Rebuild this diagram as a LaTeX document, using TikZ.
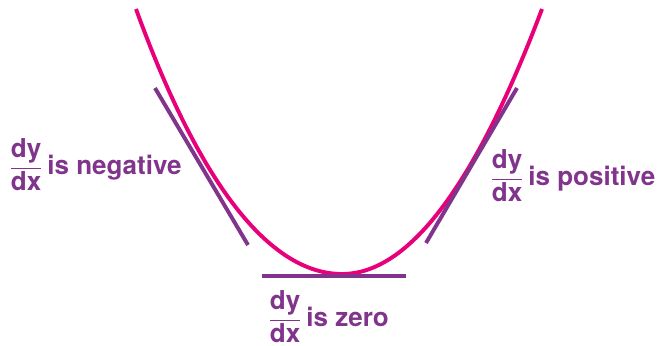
\documentclass[tikz,border=0pt]{standalone}
\usepackage{amsmath}
\usepackage{fontspec}
\setmainfont{TeX Gyre Heros}
\usetikzlibrary{calc}
\definecolor{curvepink}{RGB}{232,0,122}
\definecolor{tanpurple}{RGB}{128,52,140}
\tikzset{
  curveline/.style={draw=curvepink, line width=2.8pt},
  tanline/.style={draw=tanpurple, line width=2.8pt},
  slopelbl/.style={
    text=tanpurple, inner sep=0pt, anchor=west,
    font=\fontsize{18.5}{22}\selectfont\bfseries,
  },
}
\newcommand{\dydx}{$\dfrac{\text{dy}}{\text{dx}}$}

\begin{document}
\begin{tikzpicture}[x=0.025cm, y=-0.025cm]
\useasboundingbox (0,0) rectangle (659,345);

% =====================================================================
%  CURVE (left and right branches meet at the bottom)
% =====================================================================
\draw[curveline] plot[domain=136:342, samples=80]
  (\x, {274 - 246*((342-\x)/206)^2 - 19*((342-\x)/206)^4})
  -- plot[domain=342:542, samples=80]
  (\x, {274 - 265*((\x-342)/200)^2});

% =====================================================================
%  TANGENT LINES
% =====================================================================
\coordinate (negtop) at (155, 88);
\coordinate (negbot) at (248, 245);
\coordinate (zerol) at (262, 276);
\coordinate (zeror) at (406, 276);
\coordinate (postop) at (517, 88);
\coordinate (posbot) at (426, 243);

\draw[tanline] (negtop) -- (negbot);
\draw[tanline] (zerol) -- (zeror);
\draw[tanline] (postop) -- (posbot);

% =====================================================================
%  LABELS
% =====================================================================
\node[slopelbl] (neglbl) at (9, 165) {\dydx\,is negative};
\node[slopelbl] (poslbl) at (490, 176) {\dydx\,is positive};
\node[slopelbl] (zerolbl) at (268, 317) {\dydx\,is zero};

\end{tikzpicture}
\end{document}
